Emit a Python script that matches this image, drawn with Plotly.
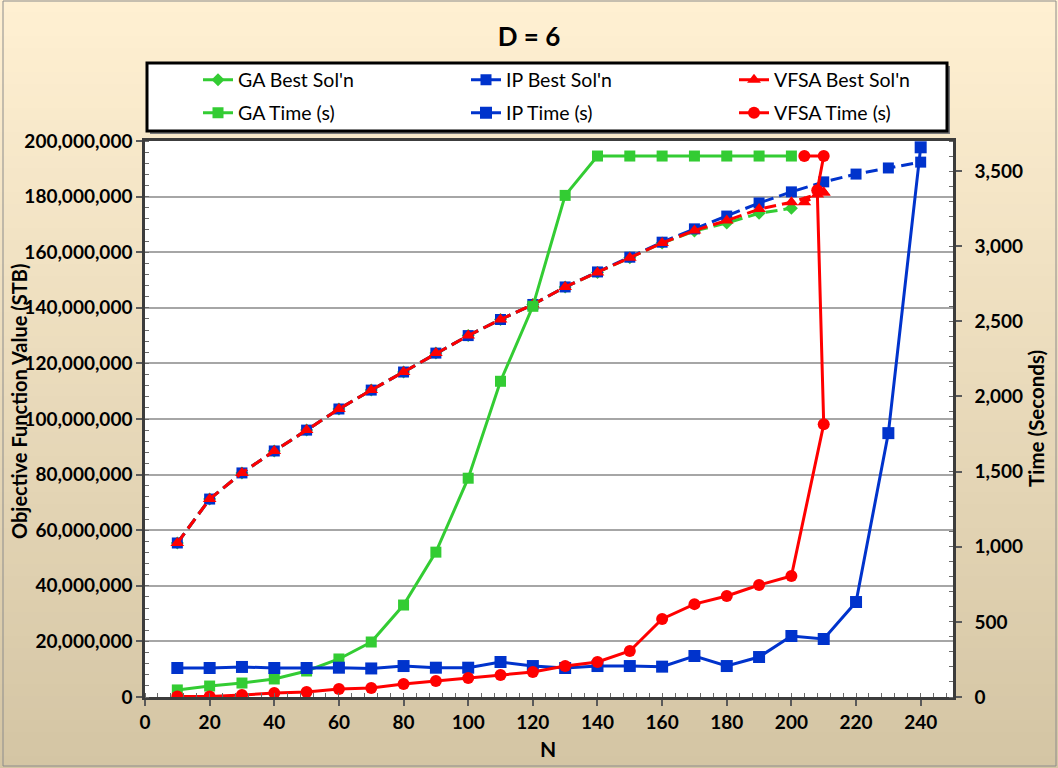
import plotly.graph_objects as go

# ---- data -------------------------------------------------------------
n_ga = [10, 20, 30, 40, 50, 60, 70, 80, 90, 100, 110, 120, 130, 140, 150, 160, 170, 180, 190, 200]
n_ip = [10, 20, 30, 40, 50, 60, 70, 80, 90, 100, 110, 120, 130, 140, 150, 160, 170, 180, 190, 200,
        210, 220, 230, 240]
n_vfsa = [10, 20, 30, 40, 50, 60, 70, 80, 90, 100, 110, 120, 130, 140, 150, 160, 170, 180, 190, 200,
          210, 208, 210, 204]

# best objective value, STB
ga_best = [55.4e6, 71.2e6, 80.6e6, 88.5e6, 96.0e6, 103.6e6, 110.4e6, 116.9e6, 123.7e6, 130.0e6,
           135.8e6, 141.2e6, 147.5e6, 152.7e6, 158.0e6, 163.3e6, 167.6e6, 170.5e6, 174.0e6, 175.8e6]
ip_best = [55.4e6, 71.2e6, 80.6e6, 88.5e6, 96.0e6, 103.6e6, 110.4e6, 116.9e6, 123.7e6, 130.0e6,
           135.8e6, 141.2e6, 147.5e6, 152.9e6, 158.2e6, 163.6e6, 168.4e6, 173.0e6, 177.7e6, 181.7e6,
           185.3e6, 188.1e6, 190.3e6, 192.4e6]
vfsa_best = [55.4e6, 71.2e6, 80.6e6, 88.5e6, 96.0e6, 103.6e6, 110.4e6, 116.9e6, 123.7e6, 130.0e6,
             135.8e6, 141.2e6, 147.5e6, 152.7e6, 158.0e6, 163.3e6, 167.8e6, 171.4e6, 175.5e6, 178.0e6,
             181.5e6, 180.8e6, 181.5e6, 178.0e6]

# run time, seconds
ga_time = [47, 73, 93, 120, 173, 253, 366, 612, 964, 1456, 2101, 2600, 3338, 3600, 3600, 3600,
           3600, 3600, 3600, 3600]
ip_time = [193, 193, 200, 193, 193, 195, 190, 206, 195, 195, 233, 206, 193, 206, 206, 202, 273,
           206, 266, 406, 386, 632, 1756, 3658]
vfsa_time = [3, 3, 13, 27, 33, 53, 60, 86, 106, 126, 146, 166, 206, 233, 306, 519, 618, 672, 745,
             805, 1815, 3372, 3600, 3600]

# ---- style ------------------------------------------------------------
GREEN = "#33CC33"
BLUE = "#0033CC"
RED = "#FF0000"
FONT = "Lato"
W, H = 1058, 768
L, R, T, B = 145, 105, 141, 71
PW, PH = W - L - R, H - T - B

DASH = "12px,6px"
TICK_FONT = dict(size=19, family=FONT, weight="bold", color="black")

fig = go.Figure()

fig.add_trace(go.Scatter(x=n_ga, y=ga_best, name="GA Best Sol'n", mode="lines+markers",
                         line=dict(color=GREEN, width=3, dash=DASH),
                         marker=dict(symbol="diamond", size=10, color=GREEN), legend="legend"))
fig.add_trace(go.Scatter(x=n_ip, y=ip_best, name="IP Best Sol'n", mode="lines+markers",
                         line=dict(color=BLUE, width=3, dash=DASH),
                         marker=dict(symbol="square", size=11, color=BLUE), legend="legend2"))
fig.add_trace(go.Scatter(x=n_vfsa, y=vfsa_best, name="VFSA Best Sol'n", mode="lines+markers",
                         line=dict(color=RED, width=3, dash=DASH),
                         marker=dict(symbol="triangle-up", size=12, color=RED), legend="legend3"))

fig.add_trace(go.Scatter(x=n_ga, y=ga_time, name="GA Time (s)", mode="lines+markers", yaxis="y2",
                         line=dict(color=GREEN, width=3),
                         marker=dict(symbol="square", size=11, color=GREEN), legend="legend4"))
fig.add_trace(go.Scatter(x=n_ip, y=ip_time, name="IP Time (s)", mode="lines+markers", yaxis="y2",
                         line=dict(color=BLUE, width=3),
                         marker=dict(symbol="square", size=12, color=BLUE), legend="legend5"))
fig.add_trace(go.Scatter(x=n_vfsa, y=vfsa_time, name="VFSA Time (s)", mode="lines+markers", yaxis="y2",
                         line=dict(color=RED, width=3),
                         marker=dict(symbol="circle", size=12, color=RED), legend="legend6"))


def px_x(X):
    return (X - L) / PW


def px_y(Y):
    return (H - B - Y) / PH


# background: vertical cream-to-tan gradient built from thin strips
shapes = []
top_c = (255, 240, 210)
bot_c = (212, 197, 164)
steps = 64
for i in range(steps):
    f = i / (steps - 1)
    c = tuple(round(top_c[k] + (bot_c[k] - top_c[k]) * f) for k in range(3))
    y0 = H * i / steps
    y1 = H * (i + 1) / steps + 1
    shapes.append(dict(type="rect", xref="paper", yref="paper", layer="below",
                       x0=px_x(0), x1=px_x(W), y0=px_y(y1), y1=px_y(y0),
                       line=dict(width=0), fillcolor="rgb(%d,%d,%d)" % c))
# white plotting area
shapes.append(dict(type="rect", xref="paper", yref="paper", layer="below",
                   x0=0, x1=1, y0=0, y1=1, line=dict(width=0), fillcolor="white"))
# outer frame
shapes.append(dict(type="rect", xref="paper", yref="paper", layer="above",
                   x0=px_x(3), x1=px_x(W - 2), y0=px_y(H - 2), y1=px_y(1),
                   line=dict(color="#8C8C8C", width=1)))
# legend box with a soft drop shadow
shapes.append(dict(type="rect", xref="paper", yref="paper", layer="below",
                   x0=px_x(150), x1=px_x(950), y0=px_y(134), y1=px_y(66),
                   line=dict(width=0), fillcolor="#7A7A7A"))
shapes.append(dict(type="rect", xref="paper", yref="paper", layer="below",
                   x0=px_x(147), x1=px_x(947), y0=px_y(131), y1=px_y(63),
                   line=dict(color="black", width=3), fillcolor="white"))


def legend_at(x_px, y_px):
    return dict(orientation="v", xref="container", yref="container",
                x=x_px / W, y=1 - y_px / H, xanchor="left", yanchor="middle",
                bgcolor="rgba(0,0,0,0)", borderwidth=0,
                font=dict(size=19.5, family=FONT, color="black"))


fig.update_layout(
    width=W, height=H,
    showlegend=True,
    margin=dict(l=L, r=R, t=T, b=B, autoexpand=False),
    paper_bgcolor="rgb(255,240,210)",
    plot_bgcolor="white",
    font=dict(family=FONT, color="black"),
    shapes=shapes,
    title=dict(text="D = 6", x=0.5, xref="container", xanchor="center",
               y=1 - 37 / H, yref="container", yanchor="middle",
               font=dict(size=26, family=FONT, weight="bold", color="black")),
    xaxis=dict(range=[0, 250], dtick=20, tick0=0, showgrid=False, zeroline=False,
               showline=True, linecolor="#3C3C3C", linewidth=2.5, mirror=True,
               ticks="outside", ticklen=6, tickcolor="#5A5A5A", tickwidth=1.5,
               minor=dict(dtick=4, ticks="inside", ticklen=4, tickcolor="#6A6A6A", tickwidth=1),
               tickfont=TICK_FONT),
    yaxis=dict(range=[0, 200e6], dtick=20e6, tickformat=",d", showgrid=True,
               gridcolor="#A6A6A6", gridwidth=1.5, zeroline=False,
               showline=True, linecolor="#3C3C3C", linewidth=2.5,
               ticks="outside", ticklen=6, tickcolor="#5A5A5A", tickwidth=1.5,
               minor=dict(dtick=4e6, ticks="inside", ticklen=4, tickcolor="#6A6A6A", tickwidth=1),
               tickfont=TICK_FONT),
    yaxis2=dict(range=[0, 3700], dtick=500, tickformat=",d", overlaying="y", side="right",
                showgrid=False, zeroline=False,
                showline=True, linecolor="#3C3C3C", linewidth=2.5,
                ticks="outside", ticklen=6, tickcolor="#5A5A5A", tickwidth=1.5,
                minor=dict(dtick=100, ticks="inside", ticklen=4, tickcolor="#6A6A6A", tickwidth=1),
                tickfont=TICK_FONT, ticklabelstandoff=9),
    legend=legend_at(198, 80),
    legend2=legend_at(466, 80),
    legend3=legend_at(734, 80),
    legend4=legend_at(198, 113),
    legend5=legend_at(466, 113),
    legend6=legend_at(734, 113),
    annotations=[
        dict(text="Objective Function Value (STB)", textangle=-90, xref="paper", yref="paper",
             x=px_x(19), y=px_y(402), xanchor="center", yanchor="middle", showarrow=False,
             font=dict(size=20, family=FONT, weight="bold", color="black")),
        dict(text="Time (Seconds)", textangle=-90, xref="paper", yref="paper",
             x=px_x(1036), y=px_y(419), xanchor="center", yanchor="middle", showarrow=False,
             font=dict(size=20.5, family=FONT, weight="bold", color="black")),
        dict(text="N", xref="paper", yref="paper", x=px_x(548), y=px_y(748),
             xanchor="center", yanchor="middle", showarrow=False,
             font=dict(size=21, family=FONT, weight="bold", color="black")),
    ],
)

fig.write_html("out.html")
